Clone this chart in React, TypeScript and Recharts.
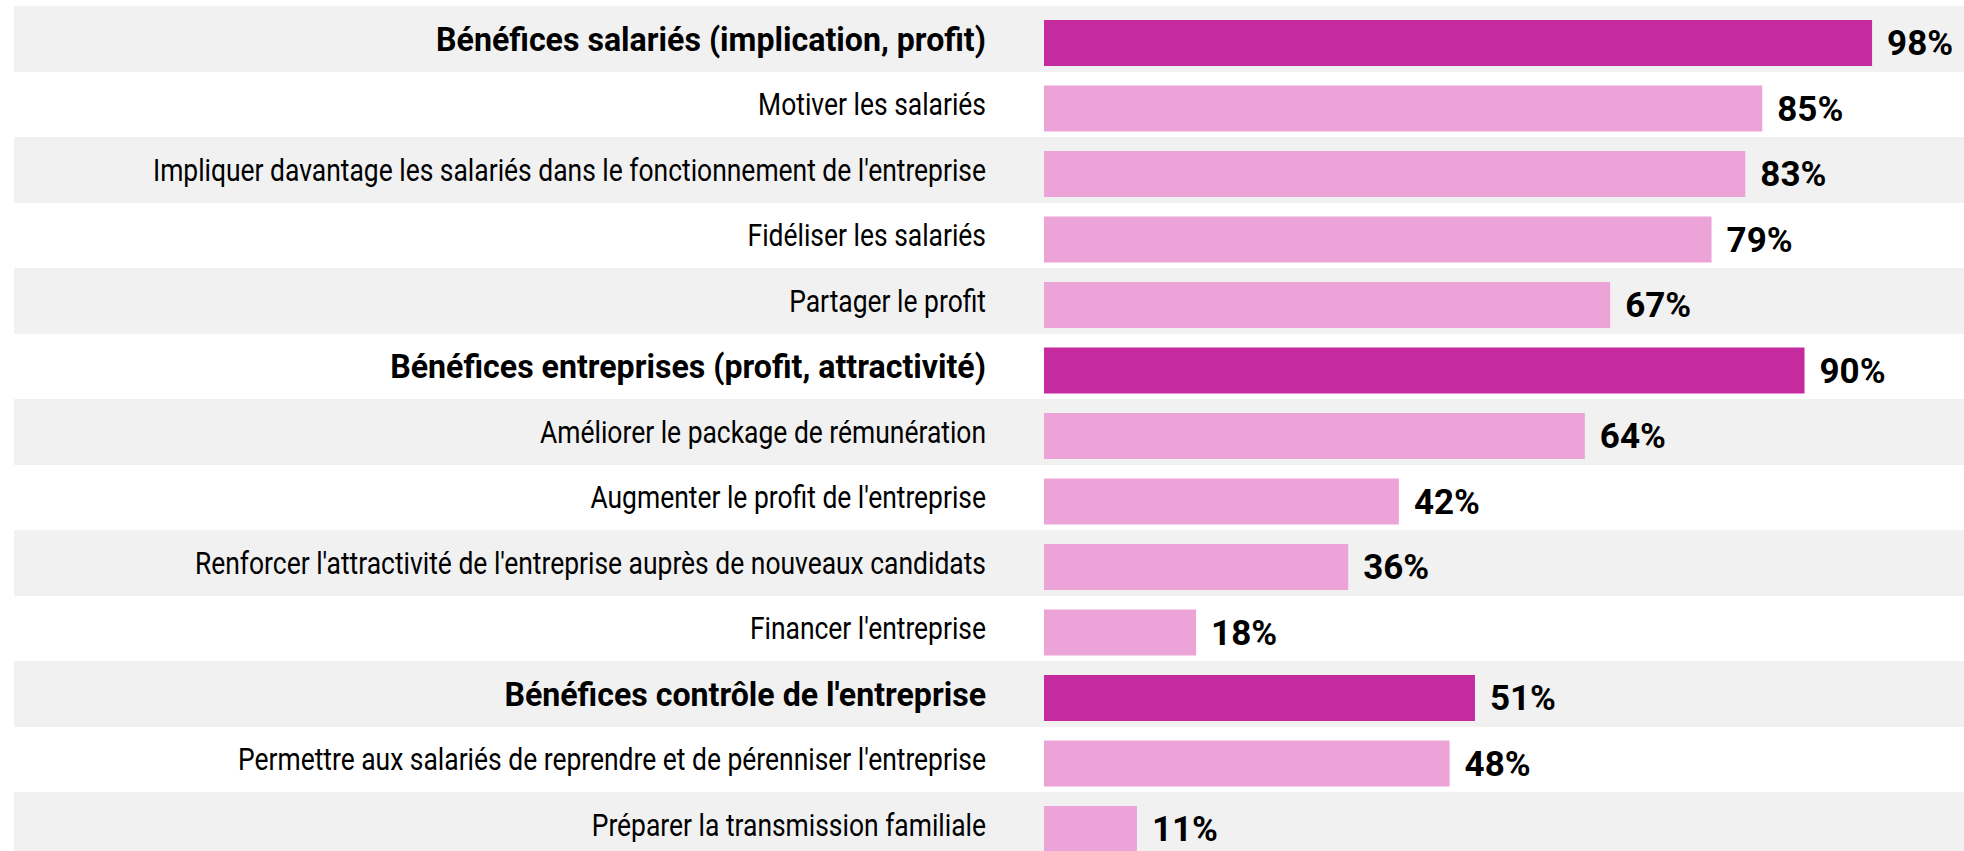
import React from 'react';
import { BarChart, Bar, XAxis, YAxis, CartesianGrid, Cell, LabelList } from 'recharts';

const categories = [
  'Bénéfices salariés (implication, profit)',
  'Motiver les salariés',
  "Impliquer davantage les salariés dans le fonctionnement de l'entreprise",
  'Fidéliser les salariés',
  'Partager le profit',
  'Bénéfices entreprises (profit, attractivité)',
  'Améliorer le package de rémunération',
  "Augmenter le profit de l'entreprise",
  "Renforcer l'attractivité de l'entreprise auprès de nouveaux candidats",
  "Financer l'entreprise",
  "Bénéfices contrôle de l'entreprise",
  "Permettre aux salariés de reprendre et de pérenniser l'entreprise",
  'Préparer la transmission familiale',
];

const values = [98, 85, 83, 79, 67, 90, 64, 42, 36, 18, 51, 48, 11];

const headers = [true, false, false, false, false, true, false, false, false, false, true, false, false];

const data = categories.map((name, i) => ({ name, value: values[i], header: headers[i] }));

const DARK = '#C52A9F';
const LIGHT = '#EBA3D8';
const STRIPE = '#F1F1F1';

const MARGIN_TOP = 10;
const STRIPE_SHIFT = 4;

const CategoryTick = (props: any) => {
  const { x, y, payload } = props;
  const idx = categories.indexOf(payload.value);
  const header = headers[idx];
  const sx = header ? 0.945 : 0.853;
  return (
    <text
      transform={`translate(${x},${y - STRIPE_SHIFT}) scale(${sx},1)`}
      textAnchor="end"
      dy="0.355em"
      fontFamily="Roboto"
      fontWeight={header ? 700 : 400}
      fontSize={header ? 34 : 31}
      fill="#000"
    >
      {payload.value}
    </text>
  );
};

export default function App() {
  return (
    <div
      style={{
        position: 'absolute',
        top: 0,
        left: 0,
        width: 1964,
        height: 851,
        overflow: 'hidden',
        background: '#fff',
        fontFamily: 'Roboto',
      }}
    >
      <BarChart
        width={1964}
        height={864}
        data={data}
        layout="vertical"
        margin={{ top: MARGIN_TOP, right: 75, bottom: 2.5, left: 0 }}
      >
        <CartesianGrid
          vertical={false}
          stroke="none"
          x={14}
          width={1950}
          y={MARGIN_TOP - STRIPE_SHIFT}
          horizontalFill={[STRIPE, '#ffffff']}
          horizontalCoordinatesGenerator={({ offset }: any) =>
            categories.map((_, i) => MARGIN_TOP - STRIPE_SHIFT + (i * offset.height) / categories.length)
          }
        />
        <XAxis type="number" domain={[0, 100]} hide />
        <YAxis
          type="category"
          dataKey="name"
          width={1044}
          axisLine={false}
          tickLine={false}
          tickSize={0}
          tickMargin={58}
          interval={0}
          tick={<CategoryTick />}
        />
        <Bar dataKey="value" barSize={46} isAnimationActive={false}>
          {data.map((d, i) => (
            <Cell key={i} fill={d.header ? DARK : LIGHT} />
          ))}
          <LabelList
            dataKey="value"
            position="right"
            offset={15}
            formatter={(v: any) => `${v}%`}
            fill="#000"
            fontFamily="Roboto"
            fontWeight={700}
            fontSize={35}
          />
        </Bar>
      </BarChart>
    </div>
  );
}
